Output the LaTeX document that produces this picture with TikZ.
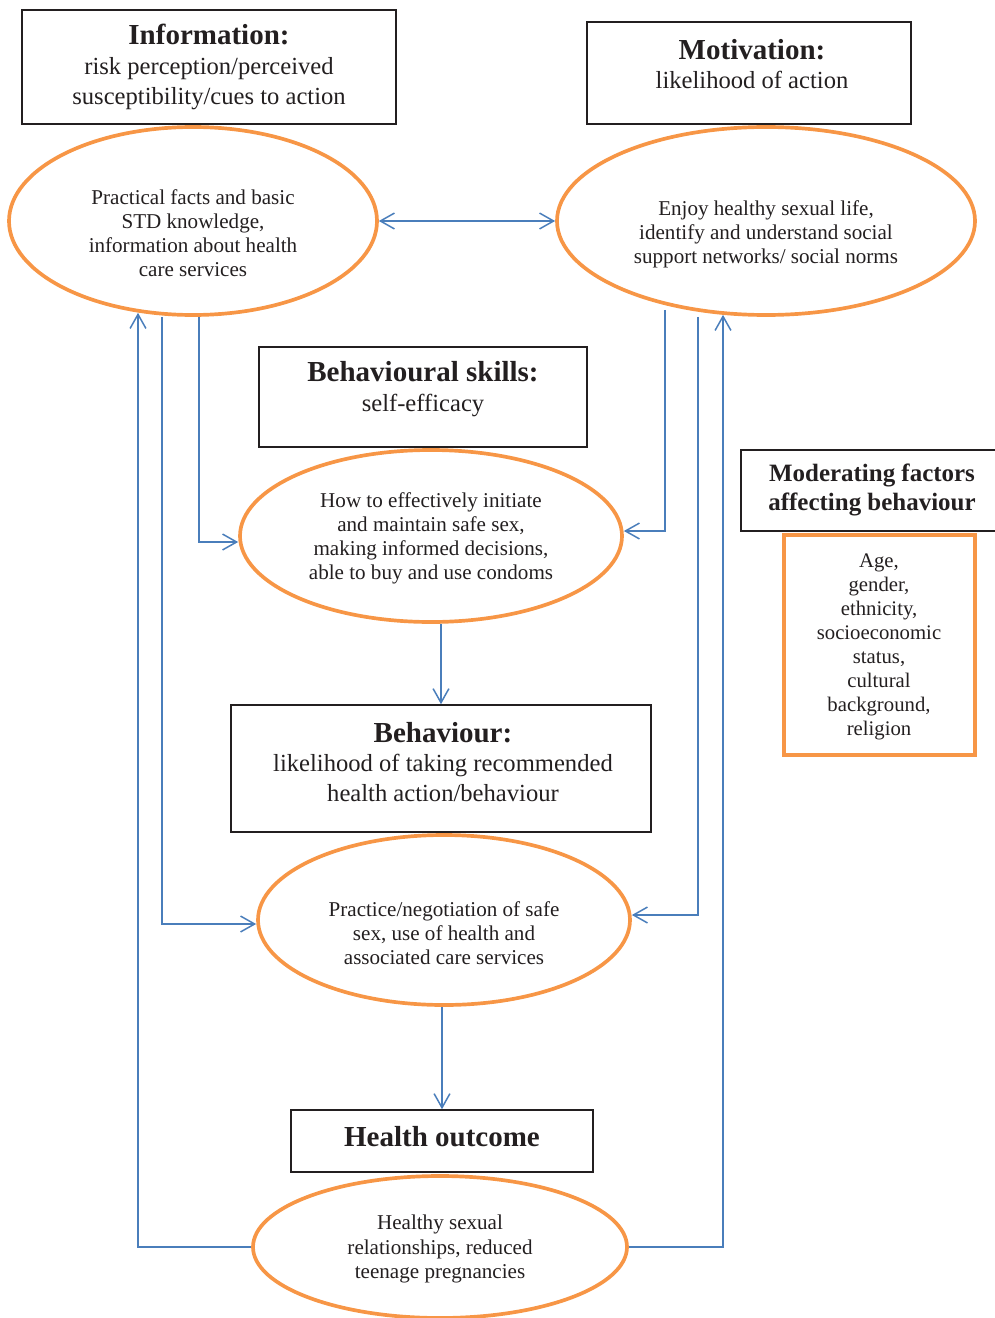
\documentclass[tikz,border=0pt]{standalone}
\usepackage{fontspec}
\setmainfont{Liberation Serif}
\usepackage{tikz}
\usetikzlibrary{positioning,shapes,calc,arrows.meta}

\definecolor{ovalorange}{HTML}{F79646}
\definecolor{flowblue}{HTML}{4A7EBB}
\definecolor{inkgray}{HTML}{231F20}

\begin{document}
\begin{tikzpicture}[
                       barb/.tip={Straight Barb[length=8pt,width=9pt]},
                       head box/.style={rectangle,draw=inkgray,line width=0.9pt},
                       head text/.style={align=center,text=inkgray,
                                         font=\fontsize{14}{17}\selectfont},
                       oval/.style={ellipse,draw=ovalorange,line width=2.1pt,
                                    inner sep=0pt},
                       oval text/.style={align=center,text=inkgray,
                                         font=\fontsize{12}{13.7}\selectfont},
                       flow/.style={draw=flowblue,line width=0.85pt,-barb}
                      ]
   \useasboundingbox (0,0) rectangle (19.9,-26.36);

   % boxes with the headings
   \node[head box,minimum width=7.48cm,minimum height=2.28cm] (info) at (4.18,-1.34) {};
   \node[head text] (infotext) at (4.18,-1.34)
        {{\fontsize{16.5}{17.5}\selectfont\bfseries Information:}\\
         risk perception/perceived\\ susceptibility/cues to action};
   \node[head box,minimum width=6.48cm,minimum height=2.04cm] (motiv) at (14.98,-1.46) {};
   \node[head text] (motivtext) at (15.04,-1.28)
        {{\fontsize{16.5}{17.5}\selectfont\bfseries Motivation:}\\ likelihood of action};
   \node[head box,minimum width=6.56cm,minimum height=2.0cm] (skills) at (8.46,-7.94) {};
   \node[head text] (skillstext) at (8.46,-7.78)
        {{\fontsize{16.5}{17.5}\selectfont\bfseries Behavioural skills:}\\ self-efficacy};
   \node[head box,minimum width=8.4cm,minimum height=2.54cm] (behav) at (8.82,-15.37) {};
   \node[head text] (behavtext) at (8.86,-15.24)
        {{\fontsize{16.5}{17.5}\selectfont\bfseries Behaviour:}\\
         likelihood of taking recommended\\ health action/behaviour};
   \node[head box,minimum width=6.04cm,minimum height=1.24cm] (health) at (8.84,-22.82) {};
   \node[head text] (healthtext) at (8.84,-22.74)
        {{\fontsize{16.5}{17.5}\selectfont\bfseries Health outcome}};
   \node[head box,minimum width=5.18cm,minimum height=1.62cm] (moder) at (17.41,-9.81) {};
   \node[head text,font=\fontsize{14.2}{16.4}\selectfont\bfseries] (modertext) at (17.44,-9.8)
        {Moderating factors\\ affecting behaviour};
   \node[rectangle,draw=ovalorange,line width=2pt,minimum width=3.82cm,
         minimum height=4.4cm] (factors) at (17.59,-12.9) {};
   \node[oval text,font=\fontsize{11.8}{13.6}\selectfont] (factorstext) at (17.58,-12.94)
        {Age,\\ gender,\\ ethnicity,\\ socioeconomic\\ status,\\ cultural\\ background,\\ religion};

   % ovals
   \node[oval,minimum width=7.36cm,minimum height=3.76cm] (e1) at (3.86,-4.42) {};
   \node[oval text] (e1text) at (3.86,-4.66)
        {Practical facts and basic\\ STD knowledge,\\ information about health\\ care services};
   \node[oval,minimum width=8.36cm,minimum height=3.76cm] (e2) at (15.32,-4.42) {};
   \node[oval text] (e2text) at (15.32,-4.68)
        {Enjoy healthy sexual life,\\ identify and understand social\\ support networks/ social norms};
   \node[oval,minimum width=7.64cm,minimum height=3.44cm] (e3) at (8.62,-10.72) {};
   \node[oval text] (e3text) at (8.62,-10.76)
        {How to effectively initiate\\ and maintain safe sex,\\ making informed decisions,\\ able to buy and use condoms};
   \node[oval,minimum width=7.44cm,minimum height=3.40cm] (e4) at (8.88,-18.4) {};
   \node[oval text] (e4text) at (8.88,-18.66)
        {Practice/negotiation of safe\\ sex, use of health and\\ associated care services};
   \node[oval,minimum width=7.48cm,minimum height=2.84cm] (e5) at (8.8,-24.94) {};
   \node[oval text] (e5text) at (8.8,-24.98)
        {Healthy sexual\\ relationships, reduced\\ teenage pregnancies};

   % connectors
   \draw[flow,barb-barb] (e1) -- (e2);
   \draw[flow] ($(e1.south)+(0.12,0)$) |- ($(e3.west)+(0,-0.12)$);
   \draw[flow] ($(e2.south)+(-2.02,0.14)$) |- ($(e3.east)+(0,0.1)$);
   \draw[flow] (behav.north |- e3.south) -- (behav.north);
   \draw[flow] ($(e1.south)+(-0.62,0)$) |- ($(e4.west)+(0,-0.08)$);
   \draw[flow] ($(e2.south)+(-1.36,0)$) |- ($(e4.east)+(0,0.1)$);
   \draw[flow] (health.north |- e4.south) -- (health.north);
   \draw[flow] (e5.west) -| ($(e1.south)+(-1.1,0.08)$);
   \draw[flow] (e5.east) -| ($(e2.south)+(-0.86,0.04)$);
 \end{tikzpicture}
\end{document}
